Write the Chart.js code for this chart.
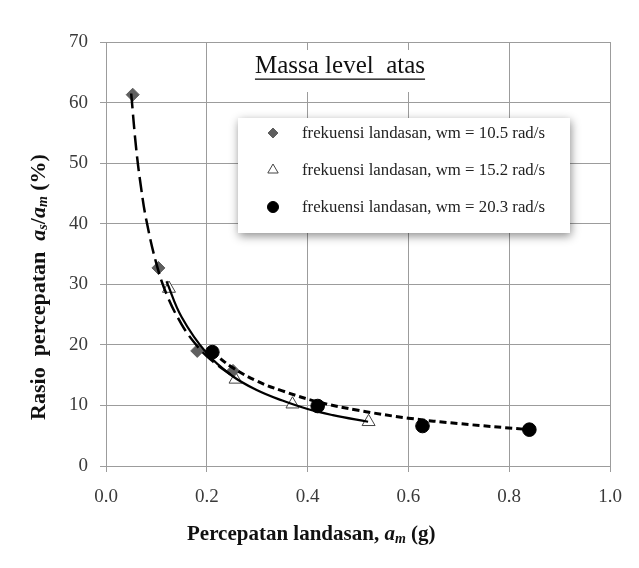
<!DOCTYPE html>
<html>
<head>
<meta charset="utf-8">
<script src="https://cdn.jsdelivr.net/npm/chart.js@4.4.0/dist/chart.umd.min.js"></script>
<style>
  html, body { margin: 0; padding: 0; background: #fff; }
</style>
</head>
<body>
<canvas id="chart" width="639" height="568"></canvas>
<script>
var SERIF = '"Liberation Serif", "Times New Roman", serif';

// measured points (x = a_m in g, y = a_s/a_m in %)
var seriesLabels = [
    'frekuensi landasan, wm = 10.5 rad/s',
    'frekuensi landasan, wm = 15.2 rad/s',
    'frekuensi landasan, wm = 20.3 rad/s'
];
var diamondX = [0.053, 0.104, 0.181, 0.252];
var diamondY = [61.3, 32.7, 19.0, 15.7];
var triangleX = [0.125, 0.257, 0.370, 0.521];
var triangleY = [29.3, 14.3, 10.2, 7.3];
var circleX = [0.211, 0.420, 0.628, 0.840];
var circleY = [18.8, 9.9, 6.6, 6.0];

// trend curves
var trendDiamondX = [0.05, 0.06, 0.07, 0.08, 0.10, 0.12, 0.15, 0.18, 0.21, 0.25];
var trendDiamondY = [61.5, 52.3, 45.7, 40.6, 33.4, 28.4, 23.4, 19.9, 17.4, 14.9];
var trendTriangleX = [0.12, 0.15, 0.20, 0.25, 0.30, 0.35, 0.40, 0.45, 0.52];
var trendTriangleY = [30.5, 24.6, 18.6, 14.9, 12.5, 10.8, 9.4, 8.4, 7.3];
var trendCircleX = [0.21, 0.25, 0.30, 0.35, 0.42, 0.50, 0.60, 0.70, 0.84];
var trendCircleY = [18.9, 16.3, 14.0, 12.4, 10.6, 9.2, 7.9, 7.0, 6.0];

var xMin = 0, xMax = 1, xStep = 0.2;
var yMin = 0, yMax = 70, yStep = 10;

var GRID = '#9c9c9c';

var toPoints = function (xs, ys) {
    return xs.map(function (x, i) {
        return { x: x, y: ys[i] };
    });
};

var drawRuns = function (ctx, runs, x, y) {
    runs.forEach(function (r) {
        ctx.font = r.font;
        ctx.fillText(r.text, x, y + (r.dy || 0));
        x += ctx.measureText(r.text).width;
    });
};

var runsWidth = function (ctx, runs) {
    var w = 0;
    runs.forEach(function (r) {
        ctx.font = r.font;
        w += ctx.measureText(r.text).width;
    });
    return w;
};

var B = 'bold 21px ' + SERIF;
var BI = 'bold italic 21px ' + SERIF;
var SUB = 'bold italic 14px ' + SERIF;
var BY = 'bold 22px ' + SERIF;
var BIY = 'bold italic 22px ' + SERIF;

var xTitleRuns = [
    { text: 'Percepatan landasan, ', font: B },
    { text: 'a', font: BI },
    { text: 'm', font: SUB, dy: 4 },
    { text: ' (g)', font: B }
];
var yTitleRuns = [
    { text: 'Rasio  percepatan  ', font: BY },
    { text: 'a', font: BIY },
    { text: 's', font: SUB, dy: 4 },
    { text: '/', font: BY },
    { text: 'a', font: BIY },
    { text: 'm', font: SUB, dy: 4 },
    { text: ' (%)', font: BY }
];

var decorations = {
    id: 'decorations',
    beforeDatasetsDraw: function (chart) {
        var ctx = chart.ctx;
        ctx.save();
        // title box hides the gridlines behind it
        ctx.fillStyle = '#fff';
        ctx.fillRect(250, 50, 182, 42);
        ctx.fillStyle = '#111';
        ctx.font = '25px ' + SERIF;
        ctx.textBaseline = 'alphabetic';
        ctx.textAlign = 'center';
        var title = 'Massa level  atas';
        ctx.fillText(title, 340, 73);
        var tw = ctx.measureText(title).width;
        ctx.fillRect(340 - tw / 2, 78.5, tw, 1.3);
        ctx.restore();
    },
    afterDatasetsDraw: function (chart) {
        var ctx = chart.ctx;
        ctx.save();

        // legend box with shadow
        ctx.shadowColor = 'rgba(0,0,0,0.45)';
        ctx.shadowBlur = 9;
        ctx.shadowOffsetX = 1;
        ctx.shadowOffsetY = 3;
        ctx.fillStyle = '#fff';
        ctx.fillRect(238, 118, 332, 115);
        ctx.shadowColor = 'transparent';

        var rows = [133, 170, 207];
        var legendPts = [
            { style: 'rectRot', radius: 5, fill: '#5f5f5f', stroke: '#5f5f5f' },
            { style: 'triangle', radius: 6, fill: '#fff', stroke: '#444' },
            { style: 'circle', radius: 5.5, fill: '#000', stroke: '#000' }
        ];
        ctx.textAlign = 'left';
        ctx.textBaseline = 'middle';
        rows.forEach(function (y, i) {
            var p = legendPts[i];
            ctx.fillStyle = p.fill;
            ctx.strokeStyle = p.stroke;
            ctx.lineWidth = 1;
            Chart.helpers.drawPoint(ctx, { pointStyle: p.style, radius: p.radius, rotation: 0, borderWidth: 1 }, 273, y);
            ctx.fillStyle = '#222';
            ctx.font = '16.8px ' + SERIF;
            ctx.fillText(seriesLabels[i], 302, y + 1);
        });

        // axis titles
        ctx.fillStyle = '#111';
        ctx.textBaseline = 'middle';
        drawRuns(ctx, xTitleRuns, 187, 535);

        ctx.translate(39, 287);
        ctx.rotate(-Math.PI / 2);
        var yw = runsWidth(ctx, yTitleRuns);
        drawRuns(ctx, yTitleRuns, -yw / 2, 0);
        ctx.restore();
    }
};

var context = document.getElementById('chart');
var chart = new Chart(context, {
    type: 'scatter',
    data: {
        datasets: [
            {
                label: 'trend 10.5',
                data: toPoints(trendDiamondX, trendDiamondY),
                showLine: true,
                tension: 0.4,
                pointRadius: 0,
                borderColor: '#000',
                borderWidth: 2.5,
                borderDash: [15, 6]
            },
            {
                label: 'trend 15.2',
                data: toPoints(trendTriangleX, trendTriangleY),
                showLine: true,
                tension: 0.4,
                pointRadius: 0,
                borderColor: '#000',
                borderWidth: 2.2
            },
            {
                label: 'trend 20.3',
                data: toPoints(trendCircleX, trendCircleY),
                showLine: true,
                tension: 0.4,
                pointRadius: 0,
                borderColor: '#000',
                borderWidth: 3,
                borderDash: [7, 4]
            },
            {
                label: seriesLabels[0],
                data: toPoints(diamondX, diamondY),
                pointStyle: 'rectRot',
                pointRadius: 6.5,
                backgroundColor: '#5f5f5f',
                borderColor: '#5f5f5f',
                borderWidth: 1
            },
            {
                label: seriesLabels[1],
                data: toPoints(triangleX, triangleY),
                pointStyle: 'triangle',
                pointRadius: 7.5,
                backgroundColor: '#fff',
                borderColor: '#444',
                borderWidth: 1
            },
            {
                label: seriesLabels[2],
                data: toPoints(circleX, circleY),
                pointStyle: 'circle',
                pointRadius: 6.8,
                backgroundColor: '#000',
                borderColor: '#000',
                borderWidth: 1
            }
        ]
    },
    options: {
        responsive: false,
        animation: false,
        layout: { padding: { top: 42, right: 29, left: 0, bottom: 0 } },
        plugins: {
            legend: { display: false },
            tooltip: { enabled: false }
        },
        scales: {
            x: {
                type: 'linear',
                min: xMin,
                max: xMax,
                afterFit: function (scale) { scale.height = 102; },
                ticks: {
                    stepSize: xStep,
                    color: '#3a3a3a',
                    padding: 14,
                    font: { family: SERIF, size: 19 },
                    callback: function (v) { return v.toFixed(1); }
                },
                grid: { color: GRID, tickLength: 6, tickColor: GRID },
                border: { color: GRID }
            },
            y: {
                min: yMin,
                max: yMax,
                afterFit: function (scale) { scale.width = 106; },
                ticks: {
                    stepSize: yStep,
                    color: '#3a3a3a',
                    padding: 12,
                    font: { family: SERIF, size: 19 }
                },
                grid: { color: GRID, tickLength: 6, tickColor: GRID },
                border: { color: GRID }
            }
        }
    },
    plugins: [decorations]
});
</script>
</body>
</html>
